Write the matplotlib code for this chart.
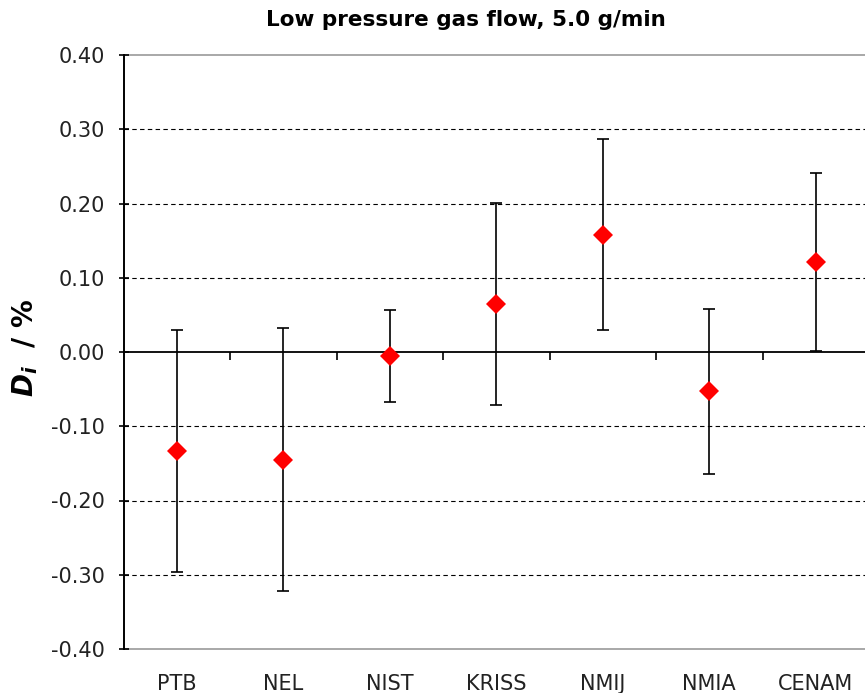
import matplotlib
matplotlib.use("Agg")
import matplotlib.pyplot as plt
from matplotlib.transforms import blended_transform_factory

plt.rcParams["font.family"] = ["DejaVu Sans"]
plt.rcParams["mathtext.fontset"] = "custom"
plt.rcParams["mathtext.it"] = "DejaVu Sans:italic:bold"
plt.rcParams["mathtext.rm"] = "DejaVu Sans:bold"

# data
labs = ["PTB", "NEL", "NIST", "KRISS", "NMIJ", "NMIA", "CENAM"]
di = [-0.133, -0.145, -0.005, 0.065, 0.158, -0.053, 0.121]
unc = [0.163, 0.177, 0.062, 0.136, 0.129, 0.111, 0.120]
yticks = [-0.40, -0.30, -0.20, -0.10, 0.00, 0.10, 0.20, 0.30, 0.40]

W, H = 865, 693
fig = plt.figure(figsize=(W / 100, H / 100), dpi=100)
ax = fig.add_axes([123.75 / W, 44 / H, (869 - 123.75) / W, 594 / H])

x = list(range(1, len(labs) + 1))
ax.set_xlim(0.5, len(labs) + 0.5)
ax.set_ylim(-0.40, 0.40)

# dashed grid, skipping zero and the borders
for v in yticks:
    if abs(v) < 1e-9 or abs(abs(v) - 0.4) < 1e-9:
        continue
    ax.axhline(v, color="black", lw=0.8, linestyle=(0, (4, 3)), zorder=1)

ax.axhline(0.40, color="#999999", lw=1.2, zorder=1, clip_on=False)
ax.axhline(-0.40, color="#999999", lw=1.2, zorder=1, clip_on=False)

ax.errorbar(x, di, yerr=unc, fmt="none", ecolor="black", elinewidth=1.2,
            capsize=4.5, capthick=1.2, zorder=3)
ax.plot(x, di, linestyle="none", marker="D", markersize=10.3,
        color="red", markeredgewidth=0, zorder=4)

# spines
for s in ["top", "right"]:
    ax.spines[s].set_visible(False)
ax.spines["left"].set_linewidth(1.4)
ax.spines["bottom"].set_position(("data", 0))
ax.spines["bottom"].set_linewidth(1.3)
ax.spines["bottom"].set_zorder(2)

ax.set_yticks(yticks)
ax.set_yticklabels([f"{v:.2f}" for v in yticks])
ax.tick_params(axis="y", direction="inout", length=7, width=1.2,
               pad=10, labelsize=15, labelcolor="#222222")

# boundary ticks on the zero line
ax.set_xticks([i + 0.5 for i in x[:-1]])
ax.set_xticklabels([])
ax.tick_params(axis="x", direction="out", length=5.5, width=1.2)

tr = blended_transform_factory(ax.transData, ax.transAxes)
for xi, lab in zip(x, labs):
    ax.annotate(lab, xy=(xi, 0), xycoords=tr, xytext=(0, -25),
                textcoords="offset points", ha="center", va="center",
                fontsize=15, color="#222222")

fig.text(465.5 / W, 1 - 20 / H, "Low pressure gas flow, 5.0 g/min",
         ha="center", va="center", fontsize=15.5, fontweight="bold")
fig.text(25 / W, 1 - 348 / H, r"$D_i$  / %", rotation=90, ha="center",
         va="center", fontsize=20, fontweight="bold")

fig.savefig("out.png", dpi=100)
